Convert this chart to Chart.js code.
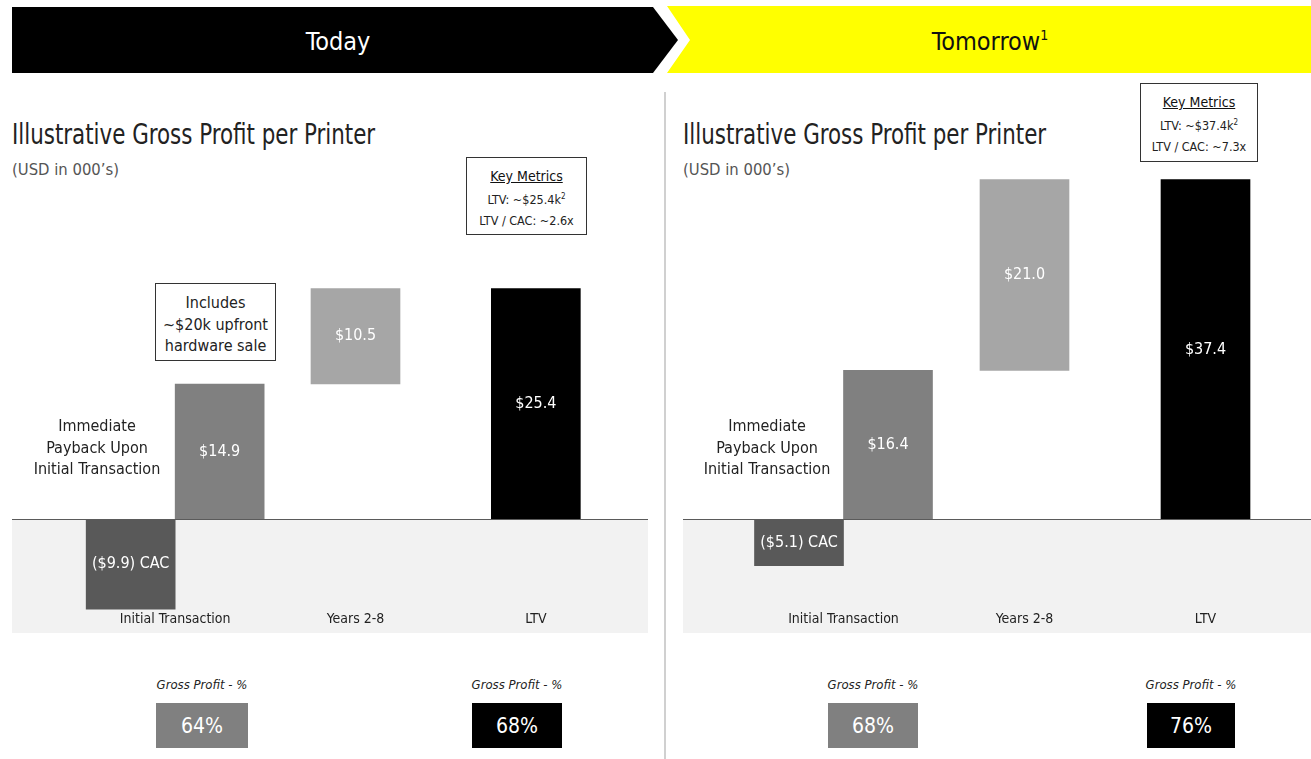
<!DOCTYPE html>
<html>
<head>
<meta charset="utf-8">
<script src="https://cdn.jsdelivr.net/npm/chart.js@4.4.1/dist/chart.umd.min.js"></script>
<style>
  body { margin:0; width:1311px; height:759px; position:relative; background:#fff; overflow:hidden;
         font-family:"Liberation Sans Narrow","DejaVu Sans Condensed",sans-serif; color:#222; }
  .abs { position:absolute; }
  .c { position:absolute; transform:translate(-50%,-50%); white-space:nowrap; text-align:center; }
  .title { position:absolute; font-size:29px; color:#222; white-space:nowrap; transform:scaleX(0.82); transform-origin:0 0; }
  .sub { position:absolute; font-size:16.5px; color:#555; white-space:nowrap; }
  .box { position:absolute; border:1px solid #333; background:#fff; box-sizing:border-box; text-align:center; }
  .note { font-size:16px; line-height:21.5px; color:#222; }
  .gp { font-size:13px; font-style:italic; color:#222; }
  .pct { position:absolute; color:#fff; font-size:21px; display:flex; align-items:center; justify-content:center; }
</style>
</head>
<body>
<!-- banner -->
<div class="abs" style="left:12px;top:7px;width:666px;height:66px;background:#000;clip-path:polygon(0 0,641px 0,666px 33px,641px 66px,0 66px)"></div>
<div class="abs" style="left:667px;top:6px;width:644px;height:67px;background:#ffff00;clip-path:polygon(0 0,644px 0,644px 67px,0 67px,23px 34px)"></div>
<div class="c" style="left:338px;top:41px;color:#fff;font-size:25px">Today</div>
<div class="c" style="left:990px;top:41px;color:#111;font-size:25px">Tomorrow<sup style="font-size:14px">1</sup></div>

<div class="abs" style="left:664px;top:92px;width:2px;height:667px;background:#d0d0d0"></div>

<div class="title" style="left:12px;top:117px">Illustrative Gross Profit per Printer</div>
<div class="sub" style="left:12px;top:160px">(USD in 000’s)</div>
<div class="title" style="left:683px;top:117px">Illustrative Gross Profit per Printer</div>
<div class="sub" style="left:683px;top:160px">(USD in 000’s)</div>

<div class="abs" style="left:12px;top:150px"><canvas id="todayChart" width="636" height="483"></canvas></div>
<div class="abs" style="left:683px;top:150px"><canvas id="tomorrowChart" width="628" height="483"></canvas></div>

<div class="box" style="left:466px;top:157px;width:121px;height:78px;padding-top:8px">
  <div style="font-size:14px;text-decoration:underline;color:#111;line-height:20px">Key Metrics</div>
  <div style="font-size:12.5px;line-height:22px" id="todayLtv"></div>
  <div style="font-size:12.5px;line-height:20px" id="todayRatio"></div>
</div>
<div class="box" style="left:1140px;top:83px;width:118px;height:79px;padding-top:8px">
  <div style="font-size:14px;text-decoration:underline;color:#111;line-height:20px">Key Metrics</div>
  <div style="font-size:12.5px;line-height:22px" id="tomorrowLtv"></div>
  <div style="font-size:12.5px;line-height:20px" id="tomorrowRatio"></div>
</div>

<div class="box note" style="left:155px;top:283px;width:121px;height:78px;padding-top:8px">Includes<br>~$20k upfront<br>hardware sale</div>

<div class="c note" style="left:97px;top:447px">Immediate<br>Payback Upon<br>Initial Transaction</div>
<div class="c note" style="left:767px;top:447px">Immediate<br>Payback Upon<br>Initial Transaction</div>

<div class="c gp" style="left:202px;top:684px">Gross Profit - %</div>
<div class="c gp" style="left:517px;top:684px">Gross Profit - %</div>
<div class="c gp" style="left:873px;top:684px">Gross Profit - %</div>
<div class="c gp" style="left:1191px;top:684px">Gross Profit - %</div>
<div class="pct" id="gpToday0" style="left:156px;top:703px;width:92px;height:45px;background:#808080"></div>
<div class="pct" id="gpToday1" style="left:472px;top:703px;width:90px;height:45px;background:#000"></div>
<div class="pct" id="gpTomorrow0" style="left:828px;top:703px;width:90px;height:45px;background:#808080"></div>
<div class="pct" id="gpTomorrow1" style="left:1147px;top:703px;width:88px;height:45px;background:#000"></div>

<script>
const categories = ['Initial Transaction', 'Years 2-8', 'LTV'];
// CAC, initial gross profit, years 2-8 gross profit, LTV
const todayValues = [-9.9, 14.9, 10.5, 25.4];
const tomorrowValues = [-5.1, 16.4, 21.0, 37.4];
const todayGrossMargin = [64, 68];
const tomorrowGrossMargin = [68, 76];
const todayLtvCac = 2.6;
const tomorrowLtvCac = 7.3;

const FONT = '"Liberation Sans Narrow", "DejaVu Sans Condensed", sans-serif';

function money(v) {
  return v < 0 ? '($' + Math.abs(v).toFixed(1) + ') CAC' : '$' + v.toFixed(1);
}

const panelPlugin = {
  id: 'panel',
  beforeDraw(chart) {
    const ctx = chart.ctx;
    const y0 = chart.scales.y.getPixelForValue(0);
    ctx.save();
    ctx.fillStyle = '#f2f2f2';
    ctx.fillRect(0, y0, chart.width, chart.height - y0);
    ctx.restore();
  },
  afterDatasetsDraw(chart) {
    const ctx = chart.ctx;
    const y0 = Math.round(chart.scales.y.getPixelForValue(0)) + 0.5;
    ctx.save();
    ctx.strokeStyle = '#5a5a5a';
    ctx.lineWidth = 1;
    ctx.beginPath();
    ctx.moveTo(0, y0);
    ctx.lineTo(chart.width, y0);
    ctx.stroke();
    ctx.fillStyle = '#fff';
    ctx.font = '16px ' + FONT;
    ctx.textAlign = 'center';
    ctx.textBaseline = 'middle';
    chart.data.datasets.forEach((ds, i) => {
      chart.getDatasetMeta(i).data.forEach((bar, j) => {
        if (ds.data[j] === null) return;
        ctx.fillText(ds.valueText, bar.x, (bar.y + bar.base) / 2);
      });
    });
    ctx.restore();
  }
};

function makeChart(id, values, padLeft, padRight) {
  const datasets = [
    { data: [values[0], null, null], backgroundColor: '#595959', valueText: money(values[0]) },
    { data: [values[1], null, null], backgroundColor: '#808080', valueText: money(values[1]) },
    { data: [null, [values[1], values[1] + values[2]], null], backgroundColor: '#a6a6a6', valueText: money(values[2]) },
    { data: [null, null, values[3]], backgroundColor: '#000000', valueText: money(values[3]) }
  ];
  return new Chart(document.getElementById(id), {
    type: 'bar',
    data: { labels: categories, datasets: datasets },
    options: {
      responsive: false,
      animation: false,
      devicePixelRatio: 1,
      layout: { padding: { left: padLeft, right: padRight, top: 6, bottom: 4 } },
      datasets: { bar: { skipNull: true, barThickness: 89, borderWidth: 0 } },
      plugins: { legend: { display: false }, tooltip: { enabled: false } },
      scales: {
        x: {
          grid: { display: false, drawTicks: false },
          border: { display: false },
          ticks: { color: '#222', font: { family: FONT, size: 14 }, padding: 1 }
        },
        y: { display: false, min: -10, max: 40 }
      }
    },
    plugins: [panelPlugin]
  });
}

makeChart('todayChart', todayValues, 73, 22);
makeChart('tomorrowChart', tomorrowValues, 70, 15);

document.getElementById('todayLtv').innerHTML = 'LTV: ~$' + todayValues[3].toFixed(1) + 'k<sup style="font-size:8px">2</sup>';
document.getElementById('todayRatio').textContent = 'LTV / CAC: ~' + todayLtvCac.toFixed(1) + 'x';
document.getElementById('tomorrowLtv').innerHTML = 'LTV: ~$' + tomorrowValues[3].toFixed(1) + 'k<sup style="font-size:8px">2</sup>';
document.getElementById('tomorrowRatio').textContent = 'LTV / CAC: ~' + tomorrowLtvCac.toFixed(1) + 'x';
document.getElementById('gpToday0').textContent = todayGrossMargin[0] + '%';
document.getElementById('gpToday1').textContent = todayGrossMargin[1] + '%';
document.getElementById('gpTomorrow0').textContent = tomorrowGrossMargin[0] + '%';
document.getElementById('gpTomorrow1').textContent = tomorrowGrossMargin[1] + '%';
</script>
</body>
</html>
